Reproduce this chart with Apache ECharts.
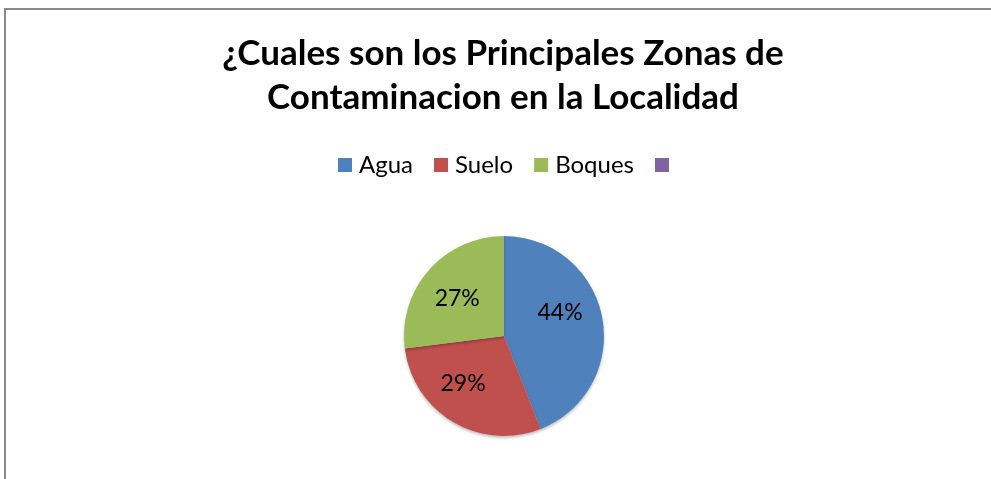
<!DOCTYPE html>
<html>
<head>
<meta charset="utf-8">
<script src="https://cdn.jsdelivr.net/npm/echarts@6/dist/echarts.min.js"></script>
<style>
html,body{margin:0;padding:0;background:#fff;}
#chart{width:991px;height:479px;}
</style>
</head>
<body>
<div id="chart"></div>
<script>
const titleText = "¿Cuales son los Principales Zonas de\nContaminacion en la Localidad";
const categories = ["Agua", "Suelo", "Boques", " "];
const values = [44, 29, 27, 0];
const colors = ["#4F81BD", "#C0504D", "#9BBB59", "#8064A2"];

const labelOffsets = [[4, -13], [-14, 2], [-7, -2], [0, 0]];

const chart = echarts.init(document.getElementById('chart'));
const option = {
  animation: false,
  color: colors,
  graphic: [{
    type: 'rect',
    shape: { x: 5, y: 9, width: 1100, height: 600 },
    style: { fill: 'none', stroke: '#8a8a8a', lineWidth: 2 },
    silent: true
  }],
  title: {
    text: titleText,
    left: 498,
    textAlign: 'center',
    top: 27,
    textStyle: {
      fontFamily: 'Lato',
      fontWeight: 'bold',
      fontSize: 35,
      lineHeight: 44,
      color: '#000'
    }
  },
  legend: {
    data: categories,
    left: 333,
    top: 148,
    icon: 'rect',
    itemWidth: 14,
    itemHeight: 14,
    itemGap: 21,
    textStyle: {
      fontFamily: 'Lato',
      fontSize: 24,
      color: '#000',
      padding: [0, 0, 0, 2]
    }
  },
  series: [{
    type: 'pie',
    center: [504, 336],
    radius: 100,
    startAngle: 90,
    clockwise: true,
    avoidLabelOverlap: false,
    labelLine: { show: false },
    itemStyle: {
      borderWidth: 0,
      shadowColor: 'rgba(0,0,0,0.25)',
      shadowBlur: 3,
      shadowOffsetY: 2
    },
    emphasis: { disabled: true },
    label: {
      show: true,
      position: 'inside',
      formatter: p => (p.value > 0 ? p.percent + '%' : ''),
      fontFamily: 'Lato',
      fontSize: 23,
      color: '#000'
    },
    data: categories.map((c, i) => ({
      name: c,
      value: values[i],
      label: { offset: labelOffsets[i] }
    }))
  }]
};
chart.setOption(option);
</script>
</body>
</html>
